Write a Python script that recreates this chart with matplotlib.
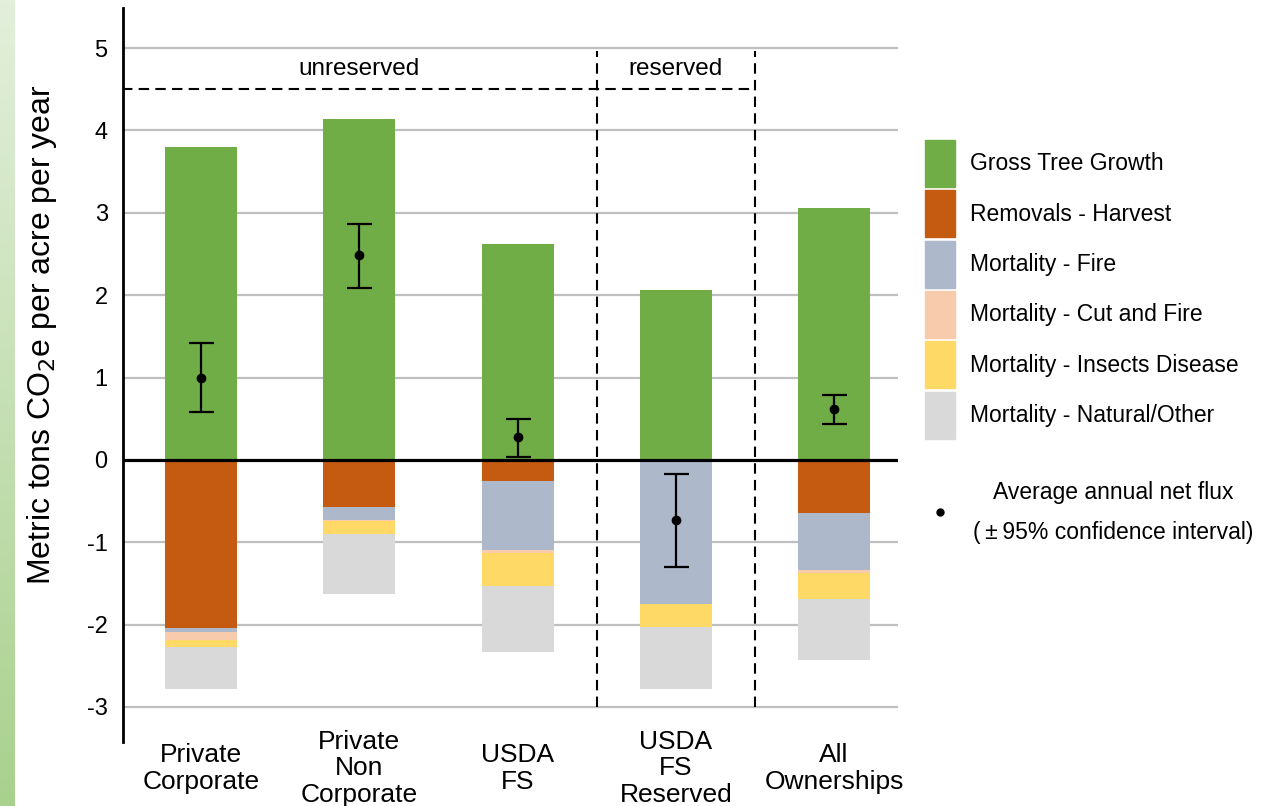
import numpy as np
import matplotlib
matplotlib.use("Agg")
import matplotlib.pyplot as plt
from matplotlib.patches import Rectangle
from matplotlib.lines import Line2D
from matplotlib.colors import LinearSegmentedColormap

plt.rcParams['font.family'] = ['Liberation Sans Narrow', 'Liberation Sans', 'DejaVu Sans']
ARIAL = ['Liberation Sans', 'DejaVu Sans']

owners = ['Private\nCorporate', 'Private\nNon\nCorporate', 'USDA\nFS', 'USDA\nFS\nReserved', 'All\nOwnerships']

growth = [3.80, 4.14, 2.62, 2.06, 3.06]
harvest = [2.04, 0.57, 0.255, 0.015, 0.64]
fire = [0.055, 0.165, 0.84, 1.735, 0.695]
cut_fire = [0.09, 0.01, 0.04, 0.0, 0.04]
insects = [0.09, 0.16, 0.40, 0.28, 0.315]
natural = [0.51, 0.72, 0.80, 0.75, 0.74]

net_flux = [1.00, 2.49, 0.28, -0.73, 0.62]
ci_low = [0.58, 2.09, 0.04, -1.30, 0.44]
ci_high = [1.42, 2.86, 0.50, -0.17, 0.79]

losses = [
    ('Removals - Harvest', harvest, '#c55a11'),
    ('Mortality - Fire', fire, '#adb9ca'),
    ('Mortality - Cut and Fire', cut_fire, '#f8cbad'),
    ('Mortality - Insects Disease', insects, '#ffd966'),
    ('Mortality - Natural/Other', natural, '#d9d9d9'),
]

W, H = 1268, 806
fig = plt.figure(figsize=(W / 100, H / 100), dpi=100)

def fx(px):
    return px / W

def fy(py):
    return 1 - py / H

# green strip on the left edge
strip = fig.add_axes([0, 0, fx(14), 1])
cmap = LinearSegmentedColormap.from_list('strip', ['#e3efdb', '#a9d18e'])
strip.imshow(np.linspace(0, 1, 256).reshape(-1, 1), aspect='auto', cmap=cmap)
strip.axis('off')

ax = fig.add_axes([fx(123), fy(742), fx(898 - 123), (742 - 8) / H])
x = np.arange(len(owners))
width = 0.455

for y in range(-3, 6):
    if y != 0:
        ax.axhline(y, color='#bfbfbf', linewidth=1.6, zorder=0)
ax.axhline(0, color='black', linewidth=2.3, zorder=3)

legend_items = [('Gross Tree Growth', '#70ad47')]
ax.bar(x, growth, width, color='#70ad47', zorder=2)
bottom = np.zeros(len(owners))
for name, vals, col in losses:
    vals = np.array(vals)
    ax.bar(x, -vals, width, bottom=bottom, color=col, zorder=2)
    bottom = bottom - vals
    legend_items.append((name, col))

flux = np.array(net_flux)
yerr = [flux - np.array(ci_low), np.array(ci_high) - flux]
ax.errorbar(x, flux, yerr=yerr, fmt='o', color='black', markersize=6,
            elinewidth=1.6, capsize=9, capthick=1.6, zorder=4)

# reserved / unreserved separators
dash = (0, (5, 3))
for xv in [2.5, 3.5]:
    ax.plot([xv, xv], [-3.0, 4.97], color='black', linestyle=dash, linewidth=1.5, zorder=3)
ax.plot([-0.5, 3.5], [4.5, 4.5], color='black', linestyle=dash, linewidth=1.5, zorder=3)
ax.text(1.0, 4.75, 'unreserved', ha='center', va='center', fontsize=17.5, family=ARIAL)
ax.text(3.0, 4.75, 'reserved', ha='center', va='center', fontsize=17.5, family=ARIAL)

ax.set_xlim(-0.493, 4.404)
ax.set_ylim(-3.425, 5.486)
ax.set_yticks(range(-3, 6))
ax.set_yticklabels([str(v) for v in range(-3, 6)], fontsize=17, family=ARIAL)
ax.set_xticks(x)
ax.set_xticklabels(owners, fontsize=19, linespacing=1.14, va='center')
ax.tick_params(axis='both', length=0)
ax.tick_params(axis='y', pad=11)
ax.tick_params(axis='x', pad=19)
for s in ['top', 'right', 'bottom']:
    ax.spines[s].set_visible(False)
ax.spines['left'].set_linewidth(2)
fig.text(fx(42), fy(335), 'Metric tons CO$_2$e per acre per year', rotation=90,
         ha='center', va='center', fontsize=23)

# legend drawn by hand
for i, (name, col) in enumerate(legend_items):
    top = 140 + i * 50.3
    fig.add_artist(Rectangle((fx(925), fy(top + 47)), fx(30), 47 / H, color=col,
                             transform=fig.transFigure))
    fig.text(fx(970), fy(top + 24), name, ha='left', va='center', fontsize=16.5, family=ARIAL)

fig.add_artist(Line2D([fx(940)], [fy(512)], marker='o', color='black', markersize=5,
                      transform=fig.transFigure))
fig.text(fx(1113), fy(492), 'Average annual net flux', ha='center', va='center',
         fontsize=16.5, family=ARIAL)
fig.text(fx(1113), fy(532), '(\u2009\u00b1\u200995% confidence interval)', ha='center', va='center',
         fontsize=16.5, family=ARIAL)

fig.savefig('out.png', dpi=100)
